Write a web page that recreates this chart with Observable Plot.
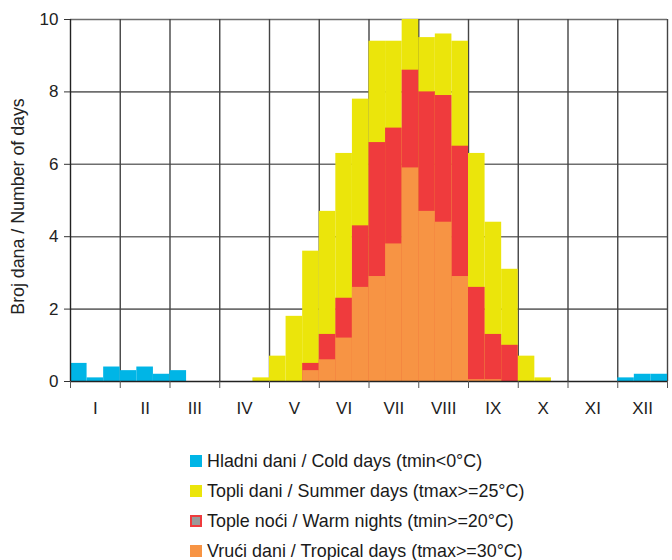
<!DOCTYPE html>
<html>
<head>
<meta charset="utf-8">
<script src="https://cdn.jsdelivr.net/npm/d3@7"></script>
<script src="https://cdn.jsdelivr.net/npm/@observablehq/plot@0.6"></script>
<style>
  body { margin: 0; background: #fff; font-family: "Liberation Sans", Arial, sans-serif; }
  #chart svg { display: block; }
  .legend { margin-left: 190px; margin-top: 18px; }
  .legend .item { display: flex; align-items: center; height: 30px; font-size: 17.9px; color: #1a1a1a; }
  .legend .sw { width: 12px; height: 12px; margin-right: 5px; box-sizing: border-box; }
</style>
</head>
<body>
<div id="chart"></div>
<div class="legend" id="legend"></div>
<script>
// Months (Roman numerals) and decades (1st, 2nd, 3rd ten-day period)
const months = ["I", "II", "III", "IV", "V", "VI", "VII", "VIII", "IX", "X", "XI", "XII"];
const yTicks = [0, 2, 4, 6, 8, 10];

// Values per decade (36 = 12 months x 3 decades)
const coldDays = [
  0.5, 0.1, 0.4,   0.3, 0.4, 0.2,   0.3, 0, 0,   0, 0, 0,
  0, 0, 0,   0, 0, 0,   0, 0, 0,   0, 0, 0,
  0, 0, 0,   0, 0, 0,   0, 0, 0,   0.1, 0.2, 0.2
];
const summerDays = [
  0, 0, 0,   0, 0, 0,   0, 0, 0,   0, 0, 0.1,
  0.7, 1.8, 3.6,   4.7, 6.3, 7.8,   9.4, 9.4, 10.0,   9.5, 9.6, 9.4,
  6.3, 4.4, 3.1,   0.7, 0.1, 0,   0, 0, 0,   0, 0, 0
];
const warmNights = [
  0, 0, 0,   0, 0, 0,   0, 0, 0,   0, 0, 0,
  0, 0, 0.5,   1.3, 2.3, 4.3,   6.6, 7.0, 8.6,   8.0, 7.9, 6.5,
  2.6, 1.3, 1.0,   0, 0, 0,   0, 0, 0,   0, 0, 0
];
const tropicalDays = [
  0, 0, 0,   0, 0, 0,   0, 0, 0,   0, 0, 0,
  0, 0, 0.3,   0.6, 1.2, 2.6,   2.9, 3.8, 5.9,   4.7, 4.4, 2.9,
  0.05, 0.05, 0,   0, 0, 0,   0, 0, 0,   0, 0, 0
];

const seriesNames = [
  "Hladni dani / Cold days (tmin<0°C)",
  "Topli dani / Summer days (tmax>=25°C)",
  "Tople noći / Warm nights (tmin>=20°C)",
  "Vrući dani / Tropical days (tmax>=30°C)"
];
const colors = ["#00b5e6", "#ebe50b", "#ef3b3d", "#f79444"];

const toRows = (vals, s) => vals.map((v, i) => ({i, v, s}));
const cold = toRows(coldDays, 0);
const summer = toRows(summerDays, 1);
const warm = toRows(warmNights, 2);
const tropical = toRows(tropicalDays, 3);

const boundaries = d3.range(0, 37, 3);
const centers = months.map((m, k) => k * 3 + 1.5);

const barOpts = (c) => ({x1: "i", x2: d => d.i + 1, y: "v", fill: c, insetLeft: 0, insetRight: 0, filter: d => d.v > 0});

const chart = Plot.plot({
  width: 672,
  height: 428,
  marginLeft: 70,
  marginRight: 5,
  marginTop: 19,
  marginBottom: 47,
  style: {fontFamily: "Liberation Sans, Arial, sans-serif", fontSize: "16px", color: "#222"},
  x: {type: "linear", domain: [0, 36]},
  y: {domain: [0, 10]},
  marks: [
    Plot.ruleY(yTicks.filter(t => t > 0), {stroke: "#6e6e6e", strokeWidth: 1.6}),
    Plot.ruleX(boundaries.filter(b => b > 0), {stroke: "#444", strokeWidth: 1.4}),
    Plot.rectY(summer, barOpts(colors[1])),
    Plot.rectY(warm, barOpts(colors[2])),
    Plot.rectY(tropical, barOpts(colors[3])),
    Plot.rectY(cold, barOpts(colors[0])),
    Plot.ruleX([0], {stroke: "#222", strokeWidth: 1.4}),
    Plot.ruleY([0], {stroke: "#222", strokeWidth: 1.6}),
    Plot.axisY({ticks: yTicks, tickSize: 6, tickPadding: 6, tickFormat: d => String(d), fontSize: 17, stroke: "#333", label: null}),
    Plot.text(["Broj dana / Number of days"], {frameAnchor: "left", textAnchor: "middle", dx: -52, dy: 6, rotate: -90, fontSize: 17.8, fill: "#222"}),
    Plot.axisX({ticks: boundaries, tickSize: 7, tickFormat: () => "", stroke: "#555", label: null}),
    Plot.axisX({ticks: centers, tickSize: 0, tickPadding: 20, tickFormat: (d) => months[Math.round((d - 1.5) / 3)], fontSize: 17, label: null})
  ]
});
document.getElementById("chart").appendChild(chart);

const legend = document.getElementById("legend");
seriesNames.forEach((name, k) => {
  const item = document.createElement("div");
  item.className = "item";
  const sw = document.createElement("span");
  sw.className = "sw";
  if (k === 2) {
    sw.style.background = "#9a9a9a";
    sw.style.border = "2px solid " + colors[2];
  } else {
    sw.style.background = colors[k];
  }
  const t = document.createElement("span");
  t.textContent = name;
  item.appendChild(sw);
  item.appendChild(t);
  legend.appendChild(item);
});
</script>
</body>
</html>
